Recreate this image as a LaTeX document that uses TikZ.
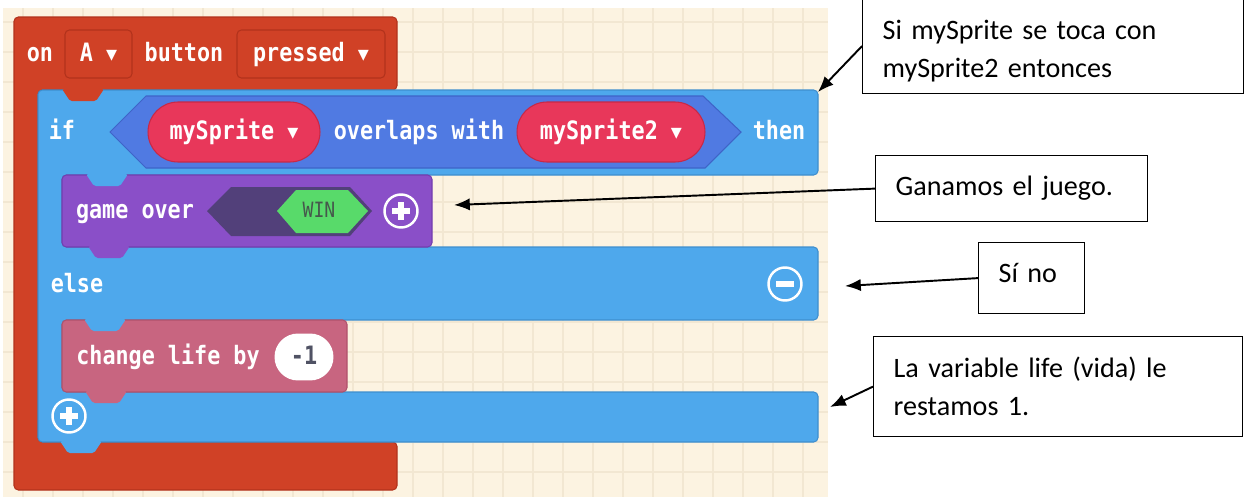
\documentclass[tikz,border=0pt]{standalone}
\usepackage{fontspec}
\setmainfont{Carlito}
\newfontfamily\blockfont{DejaVu Sans Mono}[FakeStretch=0.86]
\newfontfamily\dropfont{DejaVu Sans}
\usetikzlibrary{arrows.meta,shapes.misc}
\definecolor{cream}{RGB}{252,243,225}
\definecolor{gridline}{RGB}{242,231,210}
\definecolor{ctrlred}{RGB}{208,65,38}
\definecolor{ctrledge}{RGB}{178,50,28}
\definecolor{logicblue}{RGB}{78,168,236}
\definecolor{logicedge}{RGB}{62,142,206}
\definecolor{condblue}{RGB}{80,122,226}
\definecolor{condedge}{RGB}{62,100,200}
\definecolor{spritered}{RGB}{232,55,90}
\definecolor{spriteedge}{RGB}{200,40,70}
\definecolor{gamepurple}{RGB}{138,79,200}
\definecolor{gameedge}{RGB}{115,62,175}
\definecolor{darkslot}{RGB}{82,64,122}
\definecolor{wingreen}{RGB}{88,218,106}
\definecolor{wintext}{RGB}{70,88,76}
\definecolor{lifepink}{RGB}{200,101,128}
\definecolor{lifeedge}{RGB}{176,82,108}
\definecolor{numtext}{RGB}{80,82,100}
\newcommand\dropdown{ {\dropfont\fontsize{12.5}{12.5}\selectfont ▾}}

\begin{document}
\begin{tikzpicture}[x=0.02cm,y=-0.02cm,
  lbl/.style={text=white,font=\blockfont\bfseries\fontsize{14.4}{16}\selectfont,inner sep=0pt,text height=8pt,text depth=0pt},
  field/.style={lbl,draw=ctrledge,fill=ctrlred,line width=0.6pt,rounded corners=2.5pt,minimum height=0.96cm},
  pill/.style={lbl,rounded rectangle,fill=spritered,draw=spriteedge,line width=0.6pt,minimum height=1.2cm},
  ring/.style={circle,draw=white,line width=1.4pt,minimum size=0.66cm,inner sep=0pt},
  sign/.style={white,line width=3pt},
  note/.style={draw,line width=0.7pt,fill=white,inner xsep=0.4cm,inner ysep=0pt,align=left,anchor=north west,font=\fontsize{16}{21.5}\selectfont},
  ptr/.style={-{Latex[length=9pt,width=7pt]},line width=1.1pt}]
    \useasboundingbox (0,0) rectangle (1252,497);
    \fill[cream] (3,8) rectangle (828,497);
    \foreach \gx in {23,53,...,803} \draw[gridline,line width=0.6pt] (\gx,8) -- (\gx,497);
    \foreach \gy in {22,52,...,482} \draw[gridline,line width=0.6pt] (3,\gy) -- (828,\gy);

    \filldraw[fill=ctrlred,draw=ctrledge,line width=0.6pt,rounded corners=2.5pt] (14,17) -- (397,17) -- (397,90) -- (38,90) -- (38,442) -- (397,442) -- (397,490) -- (14,490) -- cycle;
    \filldraw[fill=logicblue,draw=logicedge,line width=0.6pt,rounded corners=2.5pt] (38,90) -- (818,90) -- (818,175) -- (62,175) -- (62,247) -- (818,247) -- (818,320) -- (62,320) -- (62,392) -- (818,392) -- (818,442) -- (38,442) -- cycle;
    \filldraw[fill=condblue,draw=condedge,line width=0.6pt] (110,132) -- (146,96) -- (703,96) -- (741,132) -- (705,168) -- (146,168) -- cycle;
    \filldraw[fill=gamepurple,draw=gameedge,line width=0.6pt,rounded corners=2.5pt] (62,175) rectangle (432,247);
    \filldraw[fill=lifepink,draw=lifeedge,line width=0.6pt,rounded corners=2.5pt] (62,320) rectangle (347,392);
    \fill[darkslot] (207,211) -- (231,187) -- (350,187) -- (372,211) -- (350,236) -- (231,236) -- cycle;
    \fill[wingreen] (277,211) -- (296,190) -- (348,190) -- (368,211) -- (348,233) -- (296,233) -- cycle;

    \foreach \tx/\ty/\tc in {62/89/ctrlred,86/174/logicblue,88/246/gamepurple,84/319/logicblue,85/391/lifepink,60/441/logicblue}
      \fill[\tc,rounded corners=1pt] (\tx,\ty) -- ({\tx+42},\ty) -- ({\tx+34},{\ty+12}) -- ({\tx+8},{\ty+12}) -- cycle;

    \node[lbl] (on) at (40,54) {on};
    \node[field,minimum width=1.34cm] (btn) at (98.5,54) {A\dropdown};
    \node[lbl] (button) at (184,54) {button};
    \node[field,minimum width=2.96cm] (evt) at (311,54) {pressed\dropdown};

    \node[lbl] (if) at (62,132) {if};
    \node[pill,minimum width=3.44cm] (spr1) at (234,132) {mySprite\dropdown};
    \node[lbl] (overlaps) at (419,132) {overlaps with};
    \node[pill,minimum width=3.76cm] (spr2) at (611,132) {mySprite2\dropdown};
    \node[lbl] (then) at (779,132) {then};

    \node[lbl] (gameover) at (135,211) {game over};
    \node[font=\blockfont\fontsize{12}{12}\selectfont,text=wintext,inner sep=0pt,text height=7pt,text depth=0pt] (win) at (319,211) {WIN};
    \node[ring] (addwin) at (401,211) {};
    \draw[sign] ([xshift=-5pt]addwin.center) -- ([xshift=5pt]addwin.center);
    \draw[sign] ([yshift=-5pt]addwin.center) -- ([yshift=5pt]addwin.center);

    \node[lbl] (else) at (77,285) {else};
    \node[ring] (remelse) at (785,284) {};
    \draw[sign] ([xshift=-5pt]remelse.center) -- ([xshift=5pt]remelse.center);

    \node[lbl] (change) at (168,357) {change life by};
    \node[lbl,rounded rectangle,fill=white,text=numtext,minimum width=1.18cm,minimum height=0.94cm] (delta) at (304,357) {-1};

    \node[ring] (addelse) at (69,416) {};
    \draw[sign] ([xshift=-5pt]addelse.center) -- ([xshift=5pt]addelse.center);
    \draw[sign] ([yshift=-5pt]addelse.center) -- ([yshift=5pt]addelse.center);

    \node[note,text width=6.82cm,minimum height=1.9cm] (n1) at (862,-2) {\rule{0pt}{17pt}Si mySprite se toca con\\mySprite2 entonces};
    \node[note,text width=4.64cm,minimum height=1.32cm] (n2) at (875,155) {Ganamos el juego.};
    \node[note,text width=1.32cm,minimum height=1.42cm] (n3) at (978,242) {Sí no\rule[-5.7pt]{0pt}{5.7pt}};
    \node[note,text width=6.58cm,minimum height=2.0cm] (n4) at (873,336) {La variable life (vida) le\\restamos 1.};

    \coordinate (t1) at (818,92);
    \coordinate (t2) at (454,205);
    \coordinate (t3) at (845,286);
    \coordinate (t4) at (830,407);

    \draw[ptr] (n1.west) -- (t1);
    \draw[ptr] (n2.west) -- (t2);
    \draw[ptr] (n3.west) -- (t3);
    \draw[ptr] (n4.west) -- (t4);
\end{tikzpicture}
\end{document}
